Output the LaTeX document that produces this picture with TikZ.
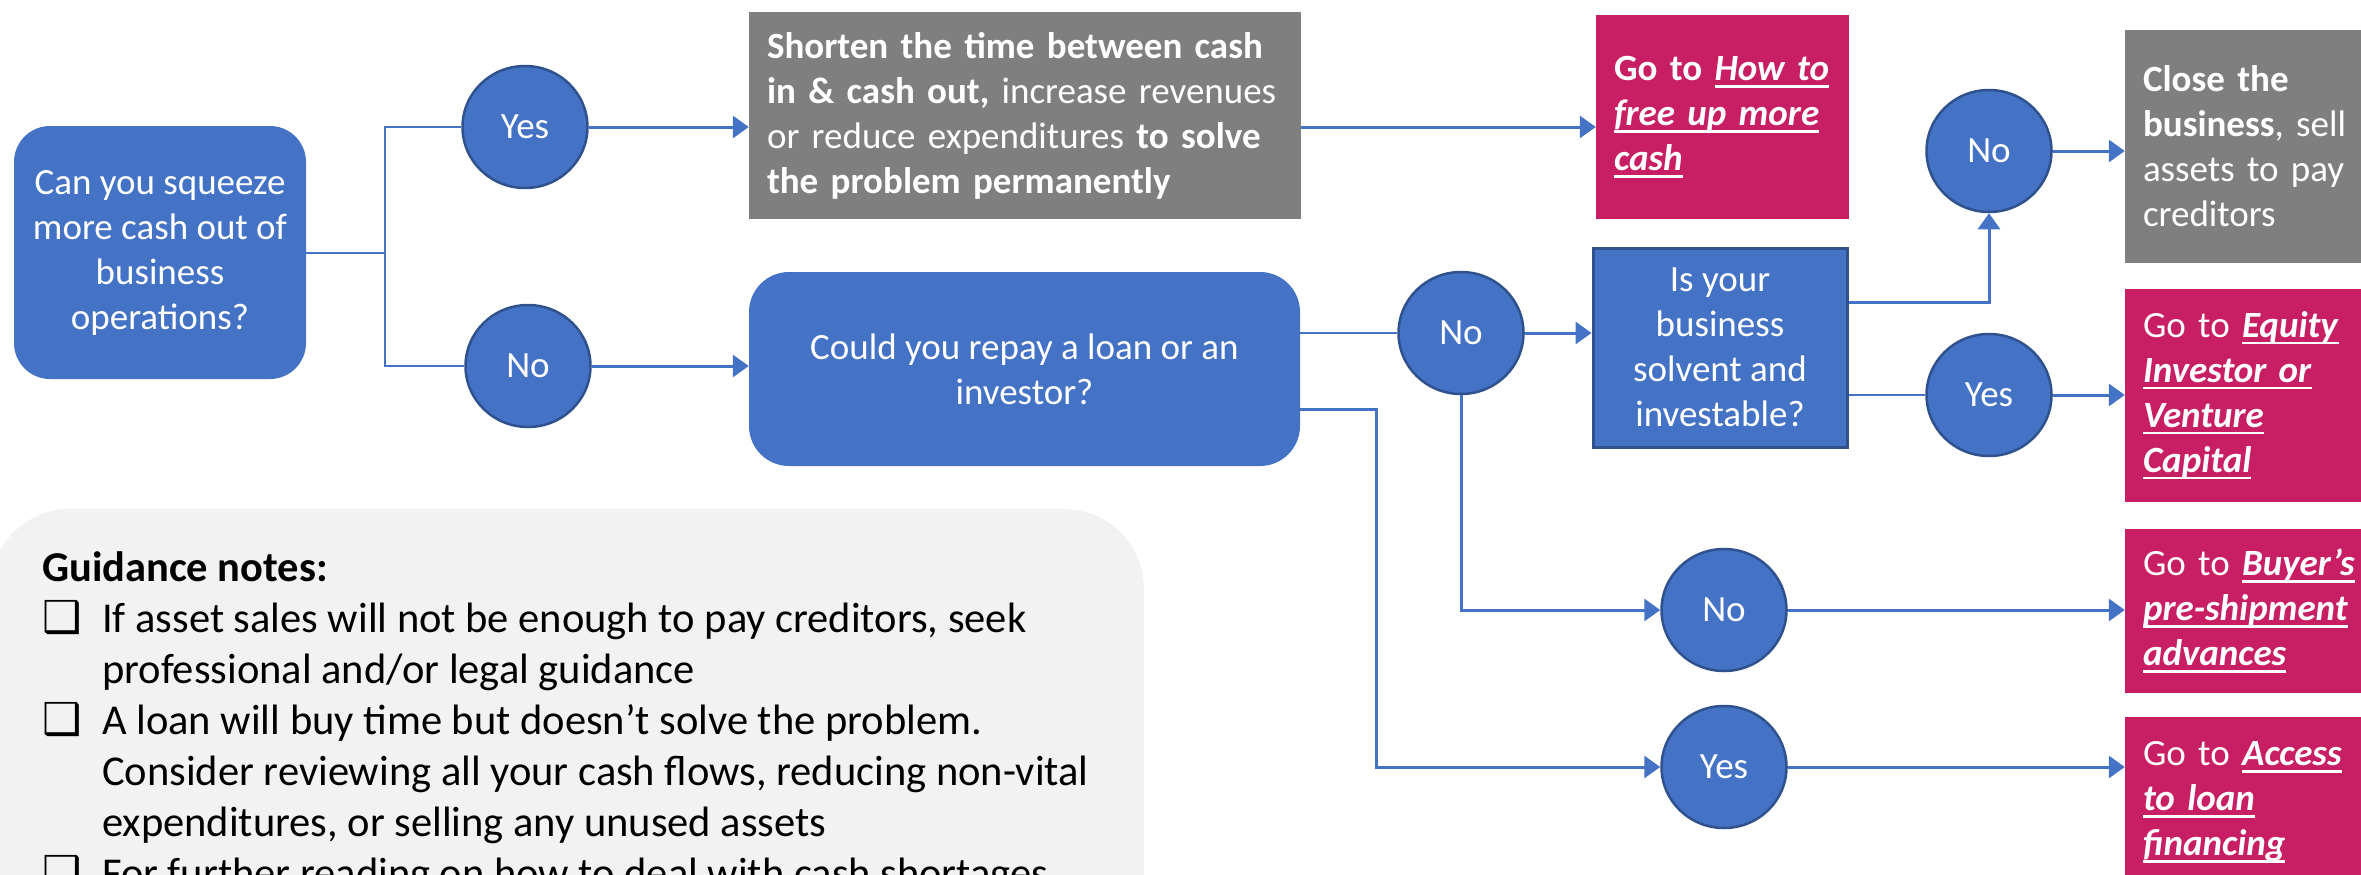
\documentclass[tikz,border=0pt]{standalone}
\usepackage{fontspec}
\setmainfont{Carlito}
\newfontfamily\symfont{DejaVu Sans}
\usetikzlibrary{arrows.meta,shapes.geometric,calc}

\definecolor{obBlue}{HTML}{4472C4}
\definecolor{obEdge}{HTML}{2F528F}
\definecolor{obGray}{HTML}{7F7F7F}
\definecolor{obPink}{HTML}{C81E63}
\definecolor{noteBg}{HTML}{F2F2F2}

% underlined bold-italic link text
\newsavebox\lnkbox
\newcommand\lnk[1]{\leavevmode\sbox\lnkbox{\textbf{\textit{#1}}}%
  \rlap{\rule[-7pt]{\wd\lnkbox}{2.5pt}}\usebox\lnkbox}
\newcommand\chk{\makebox[60pt][l]{\raisebox{0pt}{\symfont\fontsize{44}{44}\selectfont ❑}}}
\newcommand\ind{\hspace*{60pt}}

\begin{document}
\begin{tikzpicture}[x=1pt,y=-1pt,
  txt/.style={text=white, font=\fontsize{37}{45}\selectfont, inner sep=0pt},
  qbox/.style={txt, fill=obBlue, rounded corners=36pt, align=center},
  circ/.style={txt, shape=ellipse, fill=obBlue, draw=obEdge, line width=2.5pt,
               minimum width=125pt, minimum height=122pt},
  leftbox/.style={txt, align=left, inner xsep=18pt},
  graybox/.style={leftbox, fill=obGray},
  pinkbox/.style={leftbox, fill=obPink},
  link/.style={draw=obBlue, line width=2pt},
  arr/.style={draw=obBlue, line width=3pt, -{Triangle[length=16pt,width=22pt]}}
]
\clip (0,0) rectangle (2361,875);

% guidance notes panel
\fill[noteBg, rounded corners=80pt] (-10,509) rectangle (1144,980);
\node[anchor=north west, inner sep=0pt, align=left,
      font=\fontsize{42.5}{51}\selectfont] (notes) at (42,551)
  {\textbf{Guidance notes:}\\
   \chk If asset sales will not be enough to pay creditors, seek\\
   \ind professional and/or legal guidance\\
   \chk A loan will buy time but doesn’t solve the problem.\\
   \ind Consider reviewing all your cash flows, reducing non-vital\\
   \ind expenditures, or selling any unused assets\\
   \chk For further reading on how to deal with cash shortages};

% decision boxes
\node[qbox, minimum width=292pt, minimum height=253pt] (q1) at (160,252.5)
  {Can you squeeze\\more cash out of\\business\\operations?};
\node[qbox, minimum width=551pt, minimum height=194pt, rounded corners=40pt] (box2) at (1024.5,369)
  {Could you repay a loan or an\\investor?};
\node[txt, fill=obBlue, draw=obEdge, line width=3pt, align=center,
      minimum width=254pt, minimum height=199pt] (isbox) at (1720,347.5)
  {Is your\\business\\solvent and\\investable?};

% answer circles
\node[circ] (yes1) at (525,127) {Yes};
\node[circ] (no1) at (528,366) {No};
\node[circ] (no2) at (1461,333) {No};
\node[circ] (no4) at (1989,151) {No};
\node[circ] (yes4) at (1989,395) {Yes};
\node[circ] (no3) at (1724,610) {No};
\node[circ] (yes3) at (1724,767) {Yes};

% outcome boxes
\node[graybox, text width=516pt, minimum height=207pt] (gray1) at (1025,115.5)
  {\textbf{Shorten the time between cash}\\
   \textbf{in \& cash out,} increase revenues\\
   or reduce expenditures \textbf{to solve}\\
   \textbf{the problem permanently}};
\node[pinkbox, text width=217pt, minimum height=204pt] (pink1) at (1722.5,117)
  {\textbf{Go to} \lnk{How to}\\ \lnk{free up more}\\ \lnk{cash}};
\node[graybox, text width=214pt, minimum height=233pt] (gray2) at (2250,146.5)
  {\textbf{Close the}\\ \textbf{business}, sell\\ assets to pay\\ creditors};
\node[pinkbox, text width=214pt, minimum height=213pt] (pink2) at (2250,395.5)
  {Go to \lnk{Equity}\\ \lnk{Investor or}\\ \lnk{Venture}\\ \lnk{Capital}};
\node[pinkbox, text width=214pt, minimum height=164pt] (pink3) at (2250,611)
  {Go to \lnk{Buyer’s}\\ \lnk{pre-shipment}\\ \lnk{advances}};
\node[pinkbox, text width=214pt, minimum height=170pt] (pink4) at (2250,802)
  {Go to \lnk{Access}\\ \lnk{to loan}\\ \lnk{financing}};

% connectors
\coordinate (s1) at ($(q1.east)+(79,0)$);
\draw[link] (q1.east) -- (s1) |- (yes1.west);
\draw[link] (s1) |- (no1.west);
\draw[arr] (yes1.east) -- (yes1.east -| gray1.west);
\draw[arr] (no1.east) -- (no1.east -| box2.west);
\draw[arr] (yes1.east -| gray1.east) -- (yes1.east -| pink1.west);

\draw[link] (no2.west -| box2.east) -- (no2.west);
\coordinate (s2) at (1376,409);
\draw[arr] (s2 -| box2.east) -- (s2) |- (yes3.west);
\draw[arr] (no2.east) -- (no2.east -| isbox.west);
\draw[arr] (no2.south) |- (no3.west);

\coordinate (s3) at (1989,302);
\draw[arr] (s3 -| isbox.east) -- (s3) -- (no4.south);
\draw[link] (yes4.west -| isbox.east) -- (yes4.west);

\draw[arr] (no4.east) -- (no4.east -| gray2.west);
\draw[arr] (yes4.east) -- (yes4.east -| pink2.west);
\draw[arr] (no3.east) -- (no3.east -| pink3.west);
\draw[arr] (yes3.east) -- (yes3.east -| pink4.west);
\end{tikzpicture}
\end{document}
